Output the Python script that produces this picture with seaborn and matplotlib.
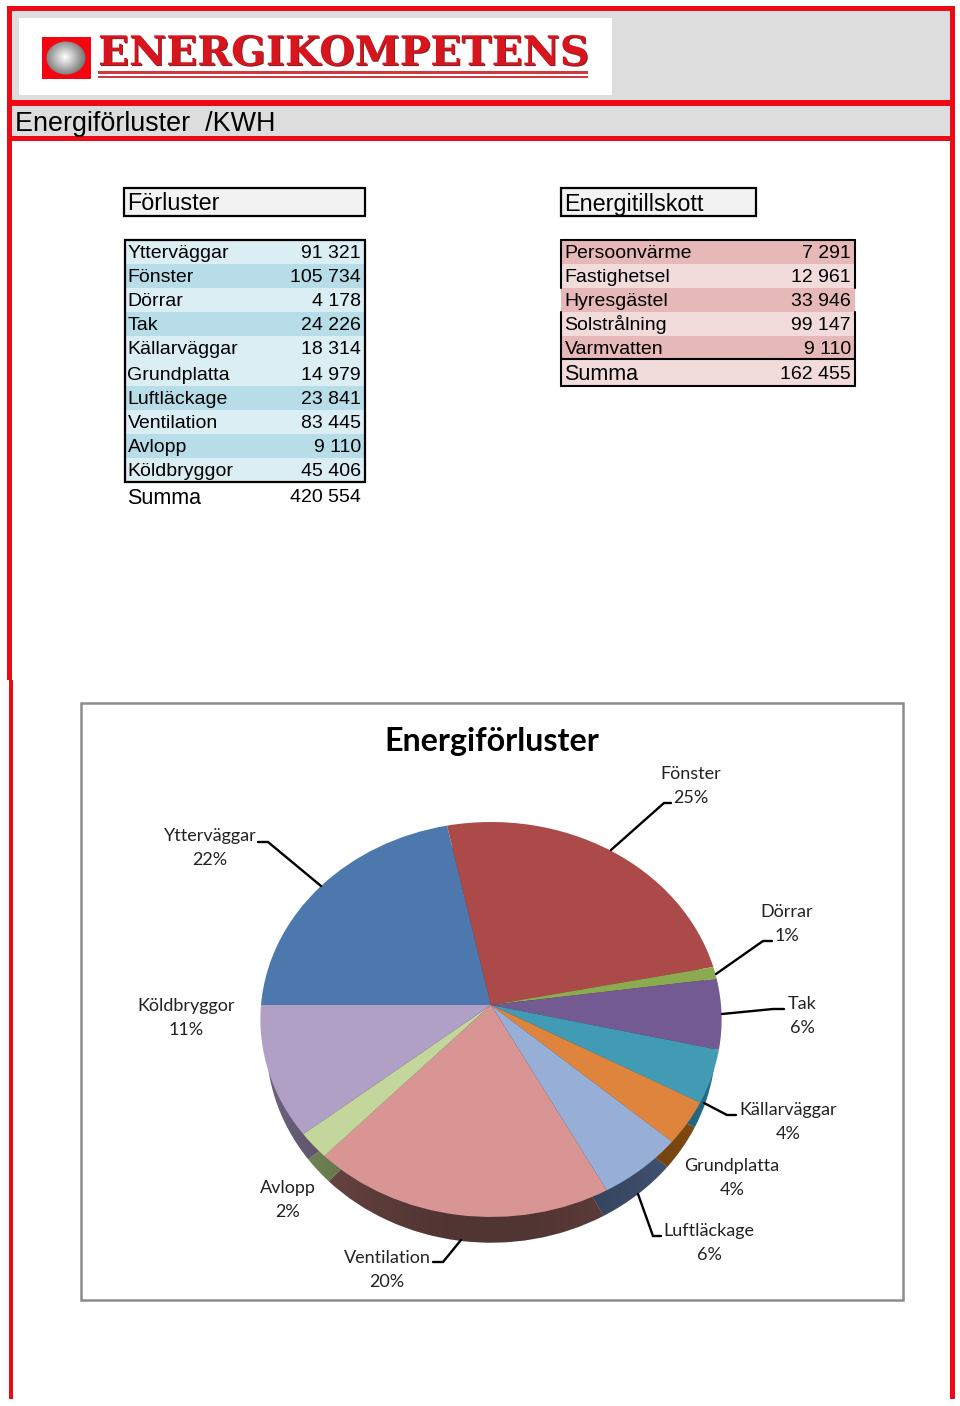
import numpy as np
import matplotlib
matplotlib.use("Agg")
import matplotlib.pyplot as plt
from matplotlib.patches import Rectangle, Ellipse, Circle
from matplotlib.transforms import Transform
import matplotlib.patheffects as pe
import seaborn as sns

# ---- data ----
loss_names = ["Ytterväggar", "Fönster", "Dörrar", "Tak", "Källarväggar", "Grundplatta",
              "Luftläckage", "Ventilation", "Avlopp", "Köldbryggor"]
loss_values = [91321, 105734, 4178, 24226, 18314, 14979, 23841, 83445, 9110, 45406]
loss_sum = 420554
gain_names = ["Persoonvärme", "Fastighetsel", "Hyresgästel", "Solstrålning", "Varmvatten"]
gain_values = [7291, 12961, 33946, 99147, 9110]
gain_sum = 162455
pie_colors = ["#4c78ae", "#ab4a48", "#8cab50", "#745a93", "#419bb5",
              "#de843c", "#97aed6", "#d99594", "#c3d69b", "#b0a0c6"]
wall_colors = ["#2d4a6e", "#6a2e2d", "#58702f", "#46375c", "#25708a",
               "#8a5012", "#4a5e82", "#7a504d", "#7f9460", "#6f6580"]

W, H = 960, 1406
sns.set_theme(style="white")
plt.rcParams["font.family"] = ["Liberation Sans", "DejaVu Sans"]


def fmt(v):
    return f"{v:,}".replace(",", " ")


fig = plt.figure(figsize=(W / 100, H / 100), dpi=100, facecolor="white")
bg = fig.add_axes([0, 0, 1, 1])
bg.set_xlim(0, W)
bg.set_ylim(H, 0)
bg.axis("off")


def box(ax, x0, y0, x1, y1, fc, ec="none", lw=0, z=1):
    ax.add_patch(Rectangle((x0, y0), x1 - x0, y1 - y0, facecolor=fc, edgecolor=ec, linewidth=lw, zorder=z))


# ---- page frame ----
RED = "#ee0a14"
GREY = "#dddddd"
box(bg, 12, 11, 950, 101, GREY)
box(bg, 12, 106, 950, 136, GREY)
box(bg, 7, 6, 955, 11, RED, z=2)
box(bg, 7, 6, 12, 680, RED, z=2)
box(bg, 8.5, 680, 12.5, 1399, RED, z=2)
box(bg, 950, 6, 955, 1399, RED, z=2)
box(bg, 10, 100, 952, 106, RED, z=2)
box(bg, 10, 136, 952, 141, RED, z=2)

# ---- logo ----
box(bg, 19, 18, 612, 95, "white", z=3)
box(bg, 42, 37, 91, 79, "#f5050f", z=4)
yy, xx = np.mgrid[-1:1:60j, -1:1:60j]
ball = bg.imshow(np.hypot(xx + 0.05, yy + 0.05), extent=(46, 86, 77, 39), cmap="gist_gray_r",
                 vmin=0, vmax=1.9, aspect="auto", zorder=5, interpolation="bilinear")
clip = Ellipse((66, 58), 39, 33, transform=bg.transData, facecolor="none")
bg.add_patch(clip)
ball.set_clip_path(clip)
bg.set_xlim(0, W)
bg.set_ylim(H, 0)
bg.text(98, 65, "ENERGIKOMPETENS", family="DejaVu Serif", weight="bold", fontsize=29.3, color="#d8141c",
        ha="left", va="baseline", zorder=5,
        path_effects=[pe.withSimplePatchShadow(offset=(0.8, -0.8), shadow_rgbFace="#7a0c10", alpha=0.9)])
box(bg, 98, 71, 588, 73.5, "#cf3a3f", z=5)
box(bg, 98, 76, 588, 78, "#cf3a3f", z=5)

# ---- headings ----
bg.text(15, 124, "Energiförluster  /KWH", fontsize=19.4, color="black", va="center", zorder=5)
box(bg, 124, 188, 365, 216, "#f2f2f2", "black", 1.6, z=3)
bg.text(127.5, 204, "Förluster", fontsize=16.8, color="black", va="center", zorder=5)
box(bg, 561, 188, 756, 216, "#f2f2f2", "black", 1.6, z=3)
bg.text(564.5, 204, "Energitillskott", fontsize=16.8, color="black", va="center", zorder=5)

# ---- left table ----
L_EDGES = [240, 264, 288, 312, 336, 362, 386, 410, 434, 458, 482]
L_BANDS = ["#daeef3", "#b7dde8", "#daeef3", "#b7dde8", "#daeef3",
           "#daeef3", "#b7dde8", "#daeef3", "#b7dde8", "#daeef3"]
for i, (n, v) in enumerate(zip(loss_names, loss_values)):
    box(bg, 125, L_EDGES[i], 365, L_EDGES[i + 1], L_BANDS[i])
    yc = (L_EDGES[i] + L_EDGES[i + 1]) / 2 + 1
    bg.text(127.5, yc, n, fontsize=14, color="black", va="center", zorder=5)
    bg.text(361, yc, fmt(v), fontsize=14, color="black", va="center", ha="right", zorder=5)
box(bg, 124.5, 240, 365, 482, "none", "black", 1.6, z=4)
bg.text(127.5, 498, "Summa", fontsize=15.5, color="black", va="center", zorder=5)
bg.text(361, 498, fmt(loss_sum), fontsize=14, color="black", va="center", ha="right", zorder=5)

# ---- right table ----
R_EDGES = [240, 264, 288, 312, 336, 359, 386]
R_BANDS = ["#e6b8b7", "#f2dcdb", "#e6b8b7", "#f2dcdb", "#e6b8b7", "#f2dcdb"]
rows = list(zip(gain_names, gain_values)) + [("Summa", gain_sum)]
for i, (n, v) in enumerate(rows):
    box(bg, 561, R_EDGES[i], 855, R_EDGES[i + 1], R_BANDS[i])
    yc = (R_EDGES[i] + R_EDGES[i + 1]) / 2 + (2 if i >= 4 else 1)
    bg.text(564.5, yc, n, fontsize=15.5 if i == 5 else 14, color="black", va="center", zorder=5)
    bg.text(851, yc, fmt(v), fontsize=14, color="black", va="center", ha="right", zorder=5)
bg.plot([561, 855], [240, 240], color="black", lw=1.5, zorder=4)
bg.plot([561, 855], [359, 359], color="black", lw=1.5, zorder=4)
bg.plot([561, 855], [386, 386], color="black", lw=1.5, zorder=4)
for xs in (561, 855):
    bg.plot([xs, xs], [240, 288], color="black", lw=1.5, zorder=4)
    bg.plot([xs, xs], [312, 386], color="black", lw=1.5, zorder=4)

# ---- chart frame ----
box(bg, 80.5, 702.5, 903, 1300, "white", "#8c8c8c", 1.8, z=1)
bg.text(491.5, 741, "Energiförluster", family="Lato", weight="bold", fontsize=23.2, color="black",
        ha="center", va="center", zorder=5)


class Tilt(Transform):
    """Perspective view of the flat unit-circle pie, into page pixels."""
    input_dims = output_dims = 2

    def __init__(self, cx, cy, a, b, k):
        super().__init__()
        self.p = (cx, cy, a, b, k)

    def transform_non_affine(self, v):
        cx, cy, a, b, k = self.p
        v = np.asarray(v, float)
        w = 1 + k * v[:, 1]
        return np.column_stack([cx + a * v[:, 0] / w, cy - b * v[:, 1] / w])


def pie_layer(tilt, colors, z):
    ax = fig.add_axes([0, 0, 1, 1], zorder=z)
    wedges, _ = ax.pie(loss_values, colors=colors, startangle=180, counterclock=False, radius=1,
                       wedgeprops=dict(linewidth=0))
    ax.set_aspect("auto")
    ax.set_xlim(0, W)
    ax.set_ylim(H, 0)
    ax.patch.set_alpha(0)
    ax.axis("off")
    for w in wedges:
        w.set_transform(tilt + ax.transData)
    return ax


# side wall (lower face of the disc), its shading, then the top face
TILT_K = 0.0733
wall_tilt = Tilt(491, 1029, 224, 198, TILT_K)
wall_ax = pie_layer(wall_tilt, wall_colors, 2)
shade = np.zeros((2, 200, 4))
shade[:, :, 3] = 0.34 * (1 - np.linspace(-1, 1, 200) ** 2)
img = wall_ax.imshow(shade, extent=(260, 722, 1250, 1000), aspect="auto", zorder=5, interpolation="bilinear")
face = Circle((0, 0), 1, transform=wall_tilt + wall_ax.transData, facecolor="none", linewidth=0)
wall_ax.add_patch(face)
img.set_clip_path(face)
wall_ax.set_xlim(0, W)
wall_ax.set_ylim(H, 0)
pie_layer(Tilt(491, 1005, 230, 196.4, TILT_K), pie_colors, 3)

# ---- labels and leaders ----
over = fig.add_axes([0, 0, 1, 1], zorder=6)
over.set_xlim(0, W)
over.set_ylim(H, 0)
over.axis("off")
over.patch.set_alpha(0)
LABEL_X = [210, 691, 787, 802, 788, 732, 709, 387, 288, 186]
LABEL_Y = [836, 774, 912, 1004, 1110, 1166, 1231, 1258, 1188, 1006]
LEADERS = {0: [(258, 842), (268, 842), (321, 886)],
           1: [(611, 850), (664, 803), (671, 803)],
           2: [(716, 974), (763, 941), (772, 941)],
           3: [(722, 1014), (773, 1009), (784, 1009)],
           4: [(704, 1103), (727, 1115), (736, 1115)],
           6: [(638, 1194), (653, 1236), (661, 1236)],
           7: [(461, 1240), (443, 1262), (433, 1262)]}
for i, n in enumerate(loss_names):
    pct = round(100 * loss_values[i] / loss_sum)
    over.text(LABEL_X[i], LABEL_Y[i], n, family="Lato", fontsize=13, color="#222222", ha="center", va="center")
    over.text(LABEL_X[i], LABEL_Y[i] + 24, f"{pct}%", family="Lato", fontsize=13, color="#222222", ha="center", va="center")
for pts in LEADERS.values():
    px, py = zip(*pts)
    over.plot(px, py, color="black", lw=1.7, solid_joinstyle="miter")

fig.savefig("out.png", dpi=100)
